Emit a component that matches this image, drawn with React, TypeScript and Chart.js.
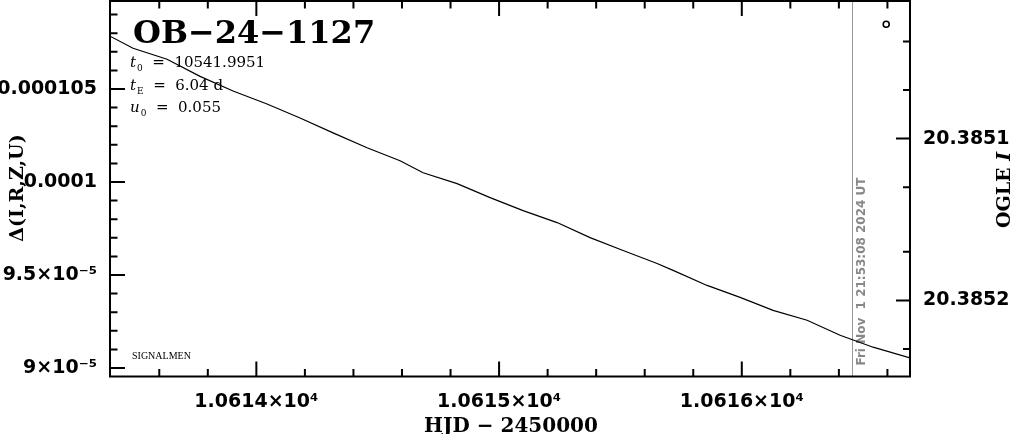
import React, { useEffect, useRef } from 'react';
import { Chart, registerables } from 'chart.js';

Chart.register(...registerables);

// ---- data ----
const modelHJD = [
  10613.397, 10613.492, 10613.632, 10613.768, 10613.904, 10614.044, 10614.18,
  10614.316, 10614.456, 10614.592, 10614.687, 10614.827, 10614.963, 10615.099,
  10615.239, 10615.375, 10615.511, 10615.651, 10615.717, 10615.857, 10615.993,
  10616.129, 10616.269, 10616.405, 10616.541, 10616.693,
];
const modelDelta = [
  107.84e-6, 107.19e-6, 106.6e-6, 105.68e-6, 104.89e-6, 104.19e-6, 103.44e-6,
  102.64e-6, 101.84e-6, 101.14e-6, 100.5e-6, 99.91e-6, 99.16e-6, 98.46e-6,
  97.82e-6, 97.01e-6, 96.32e-6, 95.62e-6, 95.25e-6, 94.44e-6, 93.8e-6,
  93.1e-6, 92.57e-6, 91.76e-6, 91.12e-6, 90.54e-6,
];
const obsHJD = [10616.595];
const obsDelta = [108.48e-6];
const nowHJD = 10616.453;
const nowLabel = 'Fri Nov  1 21:53:08 2024 UT';

const xMajorTicks = [10614, 10615, 10616];
const xMajorLabels = ['1.0614×10⁴', '1.0615×10⁴', '1.0616×10⁴'];
const xMinorTicks = [
  10613.6, 10613.8, 10614.2, 10614.4, 10614.6, 10614.8, 10615.2, 10615.4,
  10615.6, 10615.8, 10616.2, 10616.4, 10616.6,
];
const yMajorTicks = [90e-6, 95e-6, 100e-6, 105e-6];
const yMajorLabels = ['9×10⁻⁵', '9.5×10⁻⁵', '0.0001', '0.000105'];
const yMinorTicks = [
  91e-6, 92e-6, 93e-6, 94e-6, 96e-6, 97e-6, 98e-6, 99e-6, 101e-6, 102e-6,
  103e-6, 104e-6, 106e-6, 107e-6, 108e-6, 109e-6,
];
const magMajorTicks = [20.3851, 20.3852];
const magMajorLabels = ['20.3851', '20.3852'];
const magMinorTicks = [20.38504, 20.38507, 20.38513, 20.38517, 20.38523];

const X_MIN = 10613.397;
const X_MAX = 10616.693;
const Y_MIN = 89.545e-6;
const Y_MAX = 109.73e-6;
const MAG_TOP = 20.385015;
const MAG_BOTTOM = 20.385247;

const tickFont = { family: 'DejaVu Sans', weight: 'bold' as const, size: 19 };

function labelFor(v: number, majors: number[], labels: string[], tol: number) {
  for (let i = 0; i < majors.length; i++) {
    if (Math.abs(v - majors[i]) < tol) return labels[i];
  }
  return '';
}

function isMajor(v: number, majors: number[], tol: number) {
  return majors.some((m) => Math.abs(v - m) < tol);
}

function zeroPad(s: any) {
  s.paddingTop = 0;
  s.paddingBottom = 0;
  s.paddingLeft = 0;
  s.paddingRight = 0;
}

const framePlugin = {
  id: 'frame',
  beforeDatasetsDraw(chart: any) {
    const { ctx, chartArea: a, scales } = chart;
    const px = scales.x.getPixelForValue(nowHJD);
    ctx.save();
    ctx.strokeStyle = '#999999';
    ctx.lineWidth = 1;
    ctx.beginPath();
    ctx.moveTo(Math.round(px) + 0.5, a.top);
    ctx.lineTo(Math.round(px) + 0.5, a.bottom);
    ctx.stroke();
    // rotated date label
    ctx.translate(px + 13, a.bottom - 11);
    ctx.rotate(-Math.PI / 2);
    ctx.fillStyle = '#888888';
    ctx.font = 'bold 12px "DejaVu Sans"';
    ctx.textAlign = 'left';
    ctx.textBaseline = 'alphabetic';
    ctx.fillText(nowLabel, 0, 0);
    ctx.restore();
  },
  afterDraw(chart: any) {
    const { ctx, chartArea: a, scales } = chart;
    ctx.save();
    ctx.strokeStyle = '#000';
    ctx.lineWidth = 2;
    ctx.strokeRect(a.left, a.top, a.right - a.left, a.bottom - a.top);

    ctx.beginPath();
    // x ticks bottom + top
    for (const v of [...xMajorTicks, ...xMinorTicks]) {
      const p = scales.x.getPixelForValue(v);
      const len = isMajor(v, xMajorTicks, 1e-6) ? 15 : 7.5;
      ctx.moveTo(p, a.bottom);
      ctx.lineTo(p, a.bottom - len);
      ctx.moveTo(p, a.top);
      ctx.lineTo(p, a.top + len);
    }
    // left y ticks
    for (const v of [...yMajorTicks, ...yMinorTicks]) {
      const p = scales.y.getPixelForValue(v);
      const len = isMajor(v, yMajorTicks, 1e-9) ? 15 : 7.5;
      ctx.moveTo(a.left, p);
      ctx.lineTo(a.left + len, p);
    }
    // right magnitude ticks
    for (const v of [...magMajorTicks, ...magMinorTicks]) {
      const p = scales.y2.getPixelForValue(v);
      const len = isMajor(v, magMajorTicks, 1e-7) ? 14 : 7;
      ctx.moveTo(a.right, p);
      ctx.lineTo(a.right - len, p);
    }
    ctx.stroke();

    ctx.fillStyle = '#000';
    // main title
    ctx.font = 'bold 32px "DejaVu Serif"';
    ctx.textAlign = 'left';
    ctx.textBaseline = 'alphabetic';
    ctx.fillText('OB−24−1127', a.left + 23, 43);

    // parameters
    const drawParam = (main: string, sub: string, rest: string, x: number, y: number) => {
      ctx.font = 'italic 15px "DejaVu Serif"';
      ctx.fillText(main, x, y);
      let cx = x + ctx.measureText(main).width;
      ctx.font = '9px "DejaVu Serif"';
      ctx.fillText(sub, cx + 1, y + 4);
      cx += ctx.measureText(sub).width + 1;
      ctx.font = '15px "DejaVu Serif"';
      ctx.fillText(rest, cx, y);
    };
    drawParam('t', '0', '  =  10541.9951', a.left + 20, 67);
    drawParam('t', 'E', '  =  6.04 d', a.left + 20, 90);
    drawParam('u', '0', '  =  0.055', a.left + 20, 112);

    ctx.font = '10px "Liberation Serif"';
    ctx.fillText('SIGNALMEN', a.left + 22, 359);

    // x axis title
    ctx.font = 'bold 20px "DejaVu Serif"';
    ctx.textAlign = 'center';
    ctx.fillText('HJD − 2450000', (a.left + a.right) / 2 + 1, 432);

    // left y title
    ctx.save();
    ctx.translate(18, 188);
    ctx.rotate(-Math.PI / 2);
    ctx.textBaseline = 'middle';
    ctx.font = 'bold 19px "DejaVu Serif"';
    ctx.fillText('Δ(I,R,Z,U)', 0, 0);
    ctx.restore();

    // right y title
    ctx.save();
    ctx.translate(1005, 190);
    ctx.rotate(-Math.PI / 2);
    ctx.textBaseline = 'middle';
    ctx.textAlign = 'left';
    ctx.font = 'bold 19px "DejaVu Serif"';
    const w1 = ctx.measureText('OGLE ').width;
    ctx.font = 'bold italic 19px "DejaVu Serif"';
    const w2 = ctx.measureText('I').width;
    const start = -(w1 + w2) / 2;
    ctx.font = 'bold 19px "DejaVu Serif"';
    ctx.fillText('OGLE ', start, 0);
    ctx.font = 'bold italic 19px "DejaVu Serif"';
    ctx.fillText('I', start + w1, 0);
    ctx.restore();

    ctx.restore();
  },
};

export default function App() {
  const ref = useRef<HTMLCanvasElement>(null);
  useEffect(() => {
    if (!ref.current) return;
    const chart = new Chart(ref.current, {
      type: 'line',
      data: {
        datasets: [
          {
            label: 'model',
            data: modelHJD.map((x, i) => ({ x, y: modelDelta[i] })),
            borderColor: '#000',
            borderWidth: 1.2,
            pointRadius: 0,
            fill: false,
            tension: 0,
            yAxisID: 'y',
          },
          {
            label: 'OGLE',
            type: 'scatter',
            data: obsHJD.map((x, i) => ({ x, y: obsDelta[i] })),
            borderColor: '#000',
            backgroundColor: 'rgba(0,0,0,0)',
            borderWidth: 1.6,
            pointRadius: 3,
            yAxisID: 'y',
          } as any,
        ],
      },
      options: {
        animation: false,
        responsive: false,
        maintainAspectRatio: false,
        layout: { autoPadding: false, padding: { top: 1, left: 0, right: 0, bottom: 0 } },
        plugins: { legend: { display: false }, tooltip: { enabled: false } },
        scales: {
          x: {
            type: 'linear',
            position: 'bottom',
            min: X_MIN,
            max: X_MAX,
            afterFit: (s: any) => {
              s.height = 57.5;
              zeroPad(s);
            },
            afterBuildTicks: (s: any) => {
              s.ticks = [...xMajorTicks, ...xMinorTicks].sort((a, b) => a - b).map((v) => ({ value: v }));
            },
            ticks: {
              autoSkip: false,
              maxRotation: 0,
              padding: 14,
              color: '#000',
              font: tickFont,
              callback: (v: any) => labelFor(Number(v), xMajorTicks, xMajorLabels, 1e-6),
            },
            grid: { display: false, drawTicks: false },
            border: { display: false },
          },
          y: {
            type: 'linear',
            position: 'left',
            min: Y_MIN,
            max: Y_MAX,
            afterFit: (s: any) => {
              s.width = 110;
              zeroPad(s);
            },
            afterBuildTicks: (s: any) => {
              s.ticks = [...yMajorTicks, ...yMinorTicks].sort((a, b) => a - b).map((v) => ({ value: v }));
            },
            ticks: {
              autoSkip: false,
              padding: 13,
              color: '#000',
              font: tickFont,
              callback: (v: any) => labelFor(Number(v), yMajorTicks, yMajorLabels, 1e-9),
            },
            grid: { display: false, drawTicks: false },
            border: { display: false },
          },
          y2: {
            type: 'linear',
            position: 'right',
            reverse: true,
            min: MAG_TOP,
            max: MAG_BOTTOM,
            afterFit: (s: any) => {
              s.width = 104;
              zeroPad(s);
            },
            afterBuildTicks: (s: any) => {
              s.ticks = [...magMajorTicks, ...magMinorTicks].sort((a, b) => a - b).map((v) => ({ value: v }));
            },
            ticks: {
              autoSkip: false,
              padding: 13,
              color: '#000',
              font: tickFont,
              callback: (v: any) => labelFor(Number(v), magMajorTicks, magMajorLabels, 1e-7),
            },
            grid: { display: false, drawTicks: false },
            border: { display: false },
          },
        },
      },
      plugins: [framePlugin],
    });
    return () => chart.destroy();
  }, []);

  return (
    <div style={{ position: 'absolute', left: 0, top: 0, width: 1014, height: 434, background: '#fff' }}>
      <canvas ref={ref} width={1014} height={434} style={{ display: 'block' }} />
    </div>
  );
}
